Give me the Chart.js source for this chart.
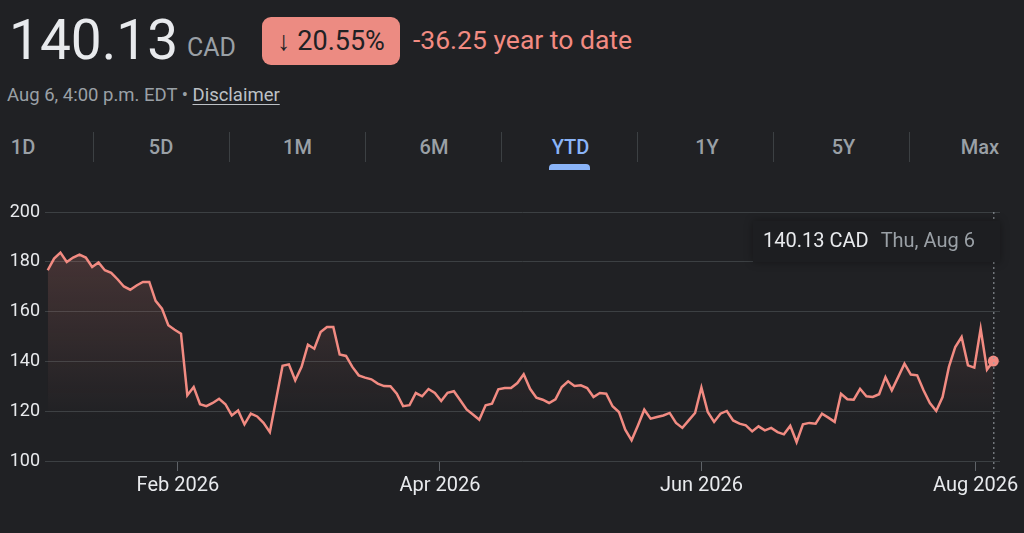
<!DOCTYPE html>
<html>
<head>
<meta charset="utf-8">
<script src="https://cdn.jsdelivr.net/npm/chart.js@4.4.1/dist/chart.umd.min.js"></script>
<style>
  html, body { margin: 0; padding: 0; background: #202124; }
  body { width: 1024px; height: 533px; position: relative; overflow: hidden; font-family: Roboto, "Noto Sans", sans-serif; color: #e8eaed; }
  .price { position: absolute; left: 9px; top: 8px; font-size: 55px; line-height: 64px; color: #e8eaed; }
  .cur { position: absolute; left: 187px; top: 32px; font-size: 25px; line-height: 32px; color: #9aa0a6; }
  .badge { position: absolute; left: 262px; top: 17px; width: 138px; height: 48px; border-radius: 9px; background: #ec8b82; color: #202124; font-size: 27px; line-height: 48px; text-align: center; }
  .chg { position: absolute; left: 413px; top: 24px; font-size: 26.5px; line-height: 32px; color: #f28b82; }
  .sub { position: absolute; left: 7px; top: 84px; font-size: 18.5px; line-height: 22px; color: #9aa0a6; }
  .sub u { color: #bdc1c6; text-underline-offset: 3px; }
  .tab { position: absolute; top: 133px; font-size: 20px; font-weight: 500; line-height: 28px; color: #9aa0a6; text-align: center; width: 120px; }
  .tab.on { color: #8ab4f8; }
  .sep { position: absolute; top: 132px; width: 1px; height: 30px; background: #3c4043; }
  .bar { position: absolute; left: 549px; top: 164px; width: 41px; height: 6px; border-radius: 4px 4px 0 0; background: #8ab4f8; }
  #wrap { position: absolute; left: 0; top: 190px; width: 1024px; height: 330px; }
</style>
</head>
<body>
<div class="price">140.13</div>
<div class="cur">CAD</div>
<div class="badge">↓ 20.55%</div>
<div class="chg">-36.25 year to date</div>
<div class="sub">Aug 6, 4:00 p.m. EDT • <u>Disclaimer</u></div>
<div id="tabs"></div>
<div class="bar"></div>
<div id="wrap"><canvas id="lineChart"></canvas></div>
<script>
// range tabs
const tabs = ['1D', '5D', '1M', '6M', 'YTD', '1Y', '5Y', 'Max'];
const tabBox = document.getElementById('tabs');
tabs.forEach((t, i) => {
	const d = document.createElement('div');
	d.className = 'tab' + (t === 'YTD' ? ' on' : '');
	d.textContent = t;
	d.style.left = (i === 0 ? -37 : 101 + (i - 1) * 136.5) + 'px';
	if (i === tabs.length - 1) d.style.left = '920px';
	tabBox.appendChild(d);
	if (i > 0) {
		const s = document.createElement('div');
		s.className = 'sep';
		s.style.left = (93 + (i - 1) * 136) + 'px';
		tabBox.appendChild(s);
	}
});

// daily closes, YTD (CAD)
const prices = [
	176.6, 181.3, 183.7, 179.9, 181.7, 182.9, 181.7, 177.9, 179.7, 176.6,
	175.6, 173.0, 170.1, 168.8, 170.5, 171.9, 171.9, 164.3, 161.2, 154.5,
	152.7, 151.1, 126.4, 129.7, 122.8, 122.0, 123.3, 125.0, 122.8, 118.3,
	120.3, 114.7, 119.0, 117.9, 115.3, 111.6, 124.9, 138.2, 138.8, 132.4,
	137.8, 146.7, 145.1, 151.8, 153.8, 153.8, 142.8, 142.2, 137.8, 134.4,
	133.5, 132.8, 131.1, 130.1, 130.0, 127.0, 122.0, 122.4, 127.3, 126.0,
	128.9, 127.3, 124.1, 127.4, 128.0, 124.4, 120.7, 118.7, 116.6, 122.4,
	123.0, 128.8, 129.3, 129.3, 131.3, 134.8, 129.0, 125.4, 124.6, 123.3,
	124.8, 129.7, 132.0, 130.1, 130.4, 129.3, 125.7, 127.3, 127.0, 122.0,
	119.7, 112.6, 108.3, 114.3, 120.6, 117.0, 117.7, 118.3, 119.3, 115.3,
	113.3, 116.3, 119.3, 129.5, 119.7, 115.7, 119.0, 120.1, 116.3, 115.0,
	114.3, 111.9, 113.9, 112.3, 113.3, 111.6, 110.7, 114.1, 107.6, 114.7,
	115.3, 115.0, 119.0, 117.4, 115.7, 127.0, 124.8, 124.6, 129.0, 126.0,
	125.7, 126.8, 133.7, 128.4, 133.7, 139.1, 134.7, 134.4, 128.4, 123.3,
	120.1, 125.7, 137.8, 145.8, 149.8, 138.4, 137.5, 153.1, 136.7, 140.13
];
// month ticks (position in trading-day index) and their labels
const monthTicks = [20.5, 61.8, 103, 146.2];
const monthLabels = ['Feb 2026', 'Apr 2026', 'Jun 2026', 'Aug 2026'];
const yTicks = [100, 120, 140, 160, 180, 200];
const tipPrice = '140.13 CAD';
const tipDate = 'Thu, Aug 6';

const red = '#f28b82';
const last = prices.length - 1;

const hoverPlugin = {
	id: 'hoverMark',
	afterDatasetsDraw(chart) {
		const { ctx, chartArea, scales } = chart;
		const px = scales.x.getPixelForValue(last);
		ctx.save();
		ctx.strokeStyle = '#9aa0a6';
		ctx.lineWidth = 1;
		ctx.setLineDash([2, 3]);
		ctx.beginPath();
		ctx.moveTo(px + 0.5, chartArea.top);
		ctx.lineTo(px + 0.5, chartArea.bottom + 9);
		ctx.stroke();
		ctx.setLineDash([]);
		// tooltip box
		const bx = chartArea.right - 247, by = chartArea.top + 9;
		ctx.shadowColor = 'rgba(0,0,0,0.35)';
		ctx.shadowBlur = 8;
		ctx.fillStyle = '#1d1e21';
		ctx.fillRect(bx, by, 247, 41);
		ctx.shadowBlur = 0;
		ctx.font = '20px Roboto';
		ctx.textBaseline = 'middle';
		ctx.fillStyle = '#e8eaed';
		ctx.fillText(tipPrice, bx + 10, by + 21);
		const w = ctx.measureText(tipPrice).width;
		ctx.fillStyle = '#9aa0a6';
		ctx.fillText(tipDate, bx + 22 + w, by + 21);
		ctx.restore();
	}
};

const lineCtx = document.getElementById('lineChart').getContext('2d');
const lineChart = new Chart(lineCtx, {
	type: 'line',
	data: {
		datasets: [{
			data: prices.map((v, i) => ({ x: i, y: v })),
			borderColor: red,
			borderWidth: 2.5,
			tension: 0,
			fill: 'start',
			backgroundColor: (c) => {
				const a = c.chart.chartArea;
				if (!a) return 'rgba(242,139,130,0.15)';
				const g = c.chart.ctx.createLinearGradient(0, a.top, 0, a.bottom - 40);
				g.addColorStop(0, 'rgba(242,139,130,0.22)');
				g.addColorStop(1, 'rgba(242,139,130,0)');
				return g;
			},
			pointRadius: (c) => c.dataIndex === last ? 5.5 : 0,
			pointBackgroundColor: red,
			pointBorderWidth: 0
		}]
	},
	options: {
		responsive: true,
		maintainAspectRatio: false,
		animation: false,
		layout: { padding: { top: 22, right: 24, left: 0, bottom: 0 } },
		plugins: { legend: { display: false }, tooltip: { enabled: false } },
		scales: {
			x: {
				type: 'linear',
				min: -0.43,
				max: 150.05,
				afterFit: (s) => { s.height = 59; },
				afterBuildTicks: (s) => { s.ticks = monthTicks.map(v => ({ value: v })); },
				ticks: {
					autoSkip: false,
					maxRotation: 0,
					padding: 3,
					color: '#e8eaed',
					font: { family: 'Roboto', size: 20 },
					callback: (v, i) => monthLabels[i]
				},
				grid: { drawOnChartArea: false, drawTicks: true, tickLength: 10, color: '#5f6368' },
				border: { display: false }
			},
			y: {
				min: 100,
				max: 200,
				afterFit: (s) => { s.width = 45; },
				afterBuildTicks: (s) => { s.ticks = yTicks.map(v => ({ value: v })); },
				ticks: {
					padding: 5,
					color: '#e8eaed',
					font: { family: 'Roboto', size: 18 }
				},
				grid: { color: '#3c4043', drawTicks: false },
				border: { display: false }
			}
		}
	},
	plugins: [hoverPlugin]
});
</script>
</body>
</html>
